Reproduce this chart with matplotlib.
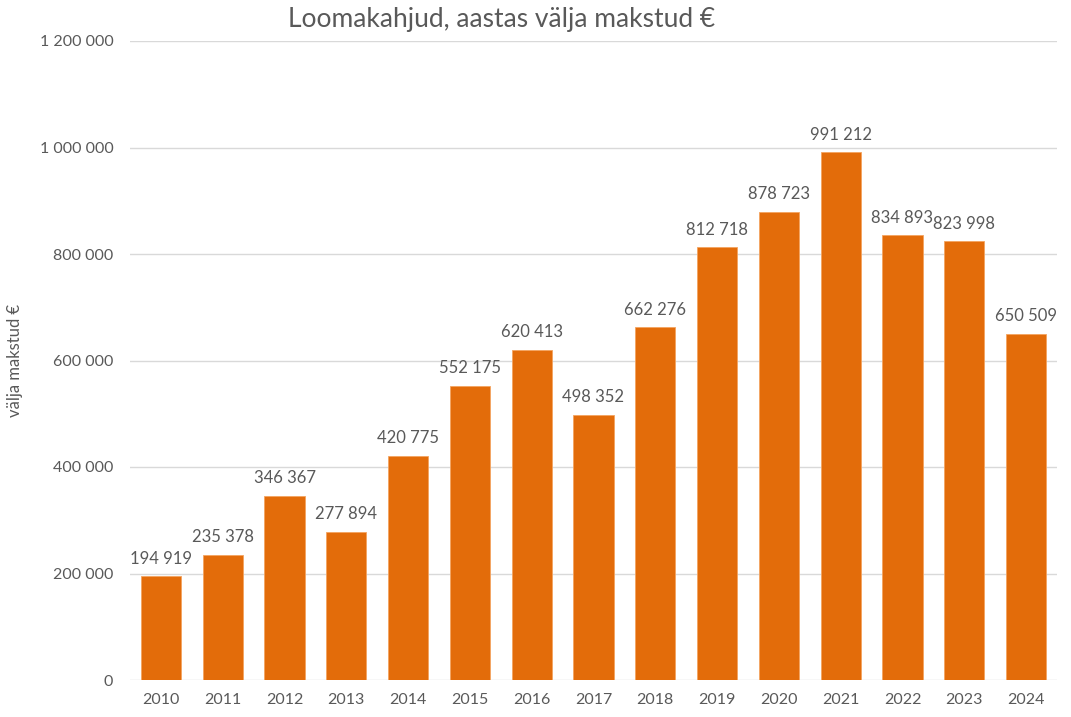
import matplotlib
matplotlib.use('Agg')
import matplotlib.pyplot as plt
from matplotlib.ticker import FuncFormatter

plt.rcParams['font.family'] = ['Lato', 'DejaVu Sans']

# andmed
aastad = ['2010', '2011', '2012', '2013', '2014', '2015', '2016', '2017',
          '2018', '2019', '2020', '2021', '2022', '2023', '2024']
summad = [194919, 235378, 346367, 277894, 420775, 552175, 620413, 498352,
          662276, 812718, 878723, 991212, 834893, 823998, 650509]
y_ticks = [0, 200000, 400000, 600000, 800000, 1000000, 1200000]

oranz = '#E36C0A'
hall = '#595959'


def tuhanded(v):
    return f'{int(v):,}'.replace(',', ' ')


fig = plt.figure(figsize=(10.71, 7.17), dpi=100)
ax = fig.add_axes([130 / 1071, 37 / 717, 927 / 1071, 639 / 717])

x = range(len(aastad))
bars = ax.bar(x, summad, width=0.65, color=oranz, edgecolor='#F4A460',
              linewidth=0.6, zorder=3)

for b, v in zip(bars, summad):
    ax.text(b.get_x() + b.get_width() / 2, v + 18000, tuhanded(v),
            ha='center', va='bottom', fontsize=12, color=hall)

ax.set_xlim(-0.5, len(aastad) - 0.5)
ax.set_ylim(0, 1200000)
ax.set_yticks(y_ticks)
ax.yaxis.set_major_formatter(FuncFormatter(lambda v, p: tuhanded(v)))
ax.set_xticks(list(x))
ax.set_xticklabels(aastad)
ax.tick_params(axis='both', length=0, labelsize=11.5, colors=hall)
ax.tick_params(axis='y', pad=12)
ax.tick_params(axis='x', pad=9)

ax.grid(axis='y', color='#D9D9D9', linewidth=1, zorder=0)
for s in ax.spines.values():
    s.set_visible(False)

ax.set_ylabel('välja makstud €', fontsize=12, color=hall, labelpad=12)
fig.text(502 / 1071, 1 - 20 / 717, 'Loomakahjud, aastas välja makstud €',
         ha='center', va='center', fontsize=19, color=hall)

fig.savefig('out.png', dpi=100)
